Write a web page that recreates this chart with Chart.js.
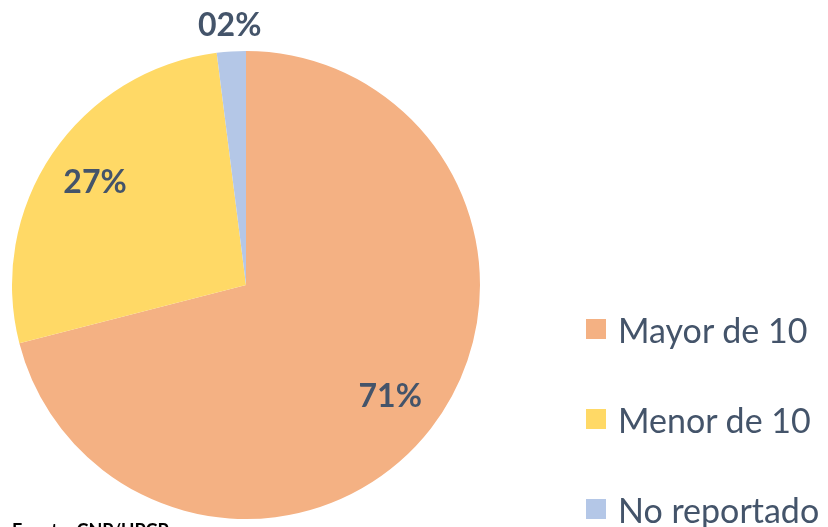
<!DOCTYPE html>
<html>
<head>
<meta charset="utf-8">
<script src="https://cdn.jsdelivr.net/npm/chart.js@4"></script>
<style>
  body { margin: 0; background: #fff; }
  #wrap { position: relative; width: 828px; height: 527px; overflow: hidden; }
  #pieChart { position: absolute; left: 0; top: 0; }
  #legend { position: absolute; left: 586px; top: 284px; font-family: Lato, sans-serif; font-size: 34px; color: #44546a; }
  .item { display: flex; align-items: center; height: 90px; white-space: nowrap; }
  .item span.box { width: 20px; height: 20px; margin-right: 12px; display: inline-block; }
  #source { position: absolute; left: 12px; top: 519px; font-family: Lato, sans-serif; font-weight: bold; font-size: 18px; color: #000; }
</style>
</head>
<body>
<div id="wrap">
  <canvas id="pieChart" width="828" height="527"></canvas>
  <div id="legend"></div>
  <div id="source">Fuente: CNP/UPCP</div>
</div>
<script>
// chart data
const categories = ['Mayor de 10', 'Menor de 10', 'No reportado'];
const values = [71, 27, 2];
const valueLabels = ['71%', '27%', '02%'];
const colors = ['#F4B183', '#FFD966', '#B4C7E7'];

// label position as fraction of radius
const labelRadius = [0.78, 0.78, 1.11];

const sliceLabels = {
    id: 'sliceLabels',
    afterDatasetsDraw(chart) {
        const ctx = chart.ctx;
        const meta = chart.getDatasetMeta(0);
        ctx.save();
        ctx.font = 'bold 32px Lato, sans-serif';
        ctx.fillStyle = '#44546a';
        ctx.textAlign = 'center';
        ctx.textBaseline = 'middle';
        meta.data.forEach((arc, i) => {
            const p = arc.getProps(['x', 'y', 'startAngle', 'endAngle', 'outerRadius'], true);
            const mid = (p.startAngle + p.endAngle) / 2;
            const r = p.outerRadius * labelRadius[i];
            ctx.fillText(valueLabels[i], p.x + Math.cos(mid) * r, p.y + Math.sin(mid) * r);
        });
        ctx.restore();
    }
};

const pieCtx = document.getElementById('pieChart').getContext('2d');
const pieChart = new Chart(pieCtx, {
    type: 'pie',
    data: {
        labels: categories,
        datasets: [{
            data: values,
            backgroundColor: colors,
            borderWidth: 0
        }]
    },
    options: {
        responsive: false,
        animation: false,
        layout: {
            padding: { left: 12, top: 51, right: 348, bottom: 8 }
        },
        plugins: {
            legend: { display: false },
            tooltip: { enabled: false }
        }
    },
    plugins: [sliceLabels]
});

// legend
const legend = document.getElementById('legend');
categories.forEach((cat, i) => {
    const div = document.createElement('div');
    div.className = 'item';
    div.innerHTML = `<span class="box" style="background:${colors[i]}"></span>${cat}`;
    legend.appendChild(div);
});
</script>
</body>
</html>
